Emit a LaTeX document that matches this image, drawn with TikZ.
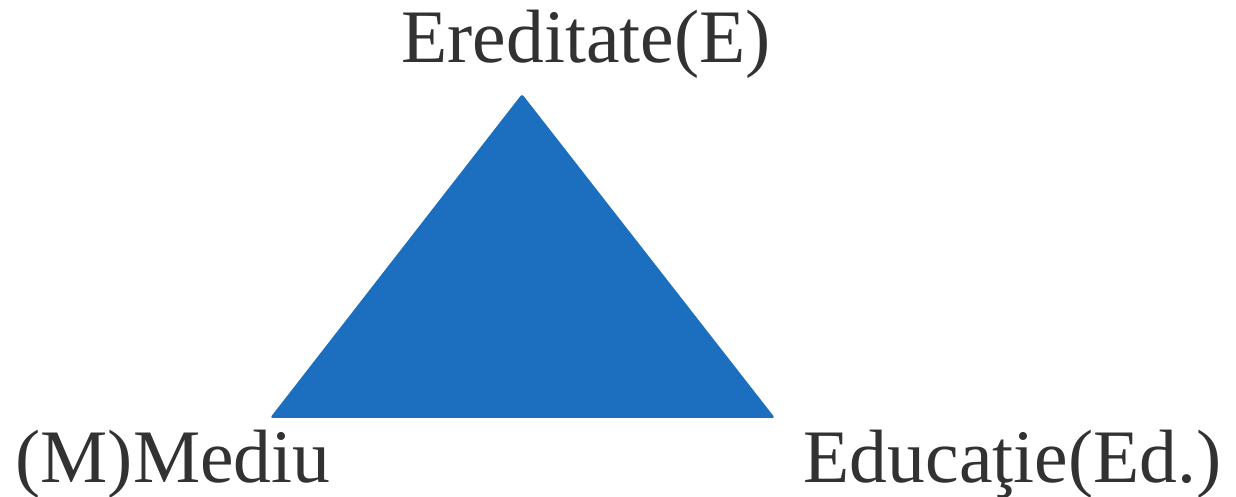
\documentclass[tikz,border=0pt]{standalone}
\usepackage{fontspec}
\setmainfont{Liberation Serif}
\usepackage{xcolor}
\usetikzlibrary{positioning}
\definecolor{triblue}{RGB}{28,111,190}
\definecolor{labelgray}{RGB}{50,50,50}

\begin{document}
\begin{tikzpicture}[label/.style={font=\fontsize{43}{50}\selectfont, text=labelgray, anchor=base, inner sep=0pt}]
\useasboundingbox (0,0) rectangle (24.72,9.94);
\coordinate (top) at (10.44,8.06);
\coordinate (left) at (5.40,1.58);
\coordinate (right) at (15.50,1.58);
\fill[triblue, rounded corners=1.5pt] (top) -- (right) -- (left) -- cycle;

\node[label] (ered) at (11.72,8.68) {Ereditate(E)};
\node[label] (mediu) at (3.46,0.28) {(M)Mediu};
\node[label] (educ) at (20.25,0.28) {Educaţie(Ed.)};
\end{tikzpicture}
\end{document}
